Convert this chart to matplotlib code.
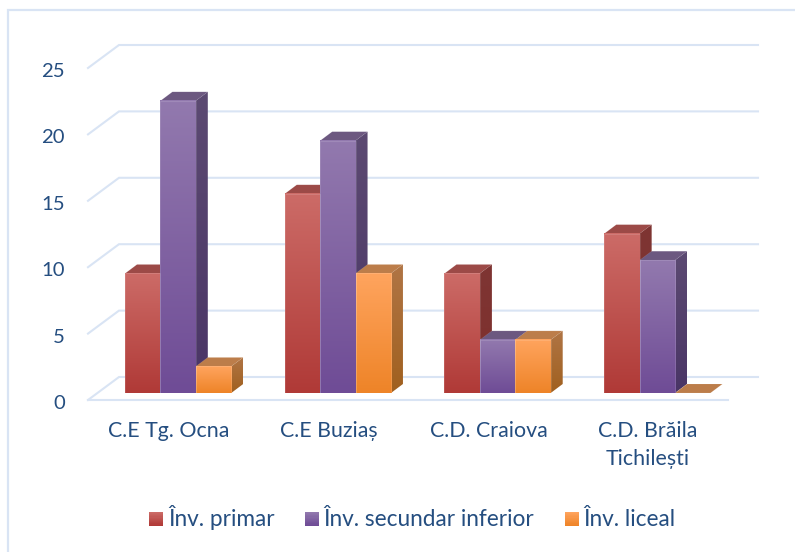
import numpy as np
import matplotlib
matplotlib.use("Agg")
import matplotlib.pyplot as plt
from matplotlib.colors import to_rgb, LinearSegmentedColormap
from matplotlib.lines import Line2D
from matplotlib.patches import Rectangle, Patch
from matplotlib.legend_handler import HandlerBase
from matplotlib.transforms import ScaledTranslation

categories = ["C.E Tg. Ocna", "C.E Buziaș", "C.D. Craiova", "C.D. Brăila\nTichilești"]
series_names = ["Înv. primar", "Înv. secundar inferior", "Înv. liceal"]
primar = [9, 15, 9, 12]
secundar = [22, 19, 4, 10]
liceal = [2, 9, 4, 0]
yticks = [0, 5, 10, 15, 20, 25]

W, H = 795, 552
TXT = "#254E80"
GRID = "#D9E4F4"
FONT = "Lato"
plt.rcParams["font.family"] = [FONT, "DejaVu Sans"]

series = [primar, secundar, liceal]
front_top = ["#CC6B67", "#9279AE", "#FFA45E"]
front_bot = ["#B03A37", "#6F4C96", "#EE8428"]
side_top = ["#7E3533", "#5C4A72", "#B07545"]
side_bot = ["#7E2F2D", "#4A3566", "#A0601F"]
top_col = ["#9C4A47", "#6C5880", "#BC7D4A"]

fig = plt.figure(figsize=(W / 100, H / 100), dpi=100, facecolor="white")
# frame: only the left and top edges are visible
fig.add_artist(Line2D([8 / W, 8 / W, 1], [0, 1 - 10 / H, 1 - 10 / H], transform=fig.transFigure,
                      color=GRID, lw=1.6, solid_joinstyle="miter"))

# axes: x spans the front floor edge, y the value scale on the front plane
ax = fig.add_axes([88 / W, 1 - 400 / H, (727 - 88) / W, (400 - 68) / H])
ax.patch.set_visible(False)
for s in ax.spines.values():
    s.set_visible(False)

px_x = 4 / (727 - 88)
px_y = 25 / (400 - 68)
wall_dx, wall_dy = 31 * px_x, 23 * px_y
bar_dx, bar_dy = 12 * px_x, 9 * px_y
base_dy = 7 * px_y
bar_w = 35.4 * px_x
group_off = 37 * px_x

# grid
for t in yticks:
    xs = [0, wall_dx, 4 + wall_dx]
    ys = [t, t + wall_dy, t + wall_dy]
    ax.plot(xs, ys, color=GRID, lw=1.5, clip_on=False, zorder=1, solid_joinstyle="miter")
ax.plot([0, 4 + px_x], [0, 0], color=GRID, lw=1.5, clip_on=False, zorder=1)


def v_gradient(c_top, c_bot):
    return LinearSegmentedColormap.from_list("g", [to_rgb(c_bot), to_rgb(c_top)])


EDGE = (1, 1, 1, 0.15)
z = 3
for i in range(len(categories)):
    for j, vals in enumerate(series):
        v = vals[i]
        x0 = i + group_off + j * bar_w
        x1 = x0 + bar_w
        y0 = base_dy
        y1 = v + base_dy
        # top face
        ax.fill([x0, x1, x1 + bar_dx, x0 + bar_dx], [y1, y1, y1 + bar_dy, y1 + bar_dy],
                color=top_col[j], lw=0.4, ec=EDGE, clip_on=False, zorder=z)
        if v > 0:
            # side face (gradient clipped to a parallelogram)
            side = ax.fill([x1, x1 + bar_dx, x1 + bar_dx, x1], [y0, y0 + bar_dy, y1 + bar_dy, y1],
                           color="none", lw=0, clip_on=False, zorder=z)[0]
            im = ax.imshow(np.linspace(1, 0, 64).reshape(-1, 1), cmap=v_gradient(side_top[j], side_bot[j]),
                           extent=(x1, x1 + bar_dx, y0, y1 + bar_dy), aspect="auto", zorder=z,
                           interpolation="bilinear", clip_on=True)
            im.set_clip_path(side)
            # front face
            ax.imshow(np.linspace(1, 0, 64).reshape(-1, 1), cmap=v_gradient(front_top[j], front_bot[j]),
                      extent=(x0, x1, y0, y1), aspect="auto", zorder=z + 0.5,
                      interpolation="bilinear", clip_on=False)
            ax.bar(x0, v, width=bar_w, bottom=y0, align="edge", fill=False, ec=EDGE, lw=0.6,
                   clip_on=False, zorder=z + 0.6)

ax.set_xlim(0, 4)
ax.set_ylim(0, 25)
ax.set_xticks(np.arange(4) + 0.5 + 1 * px_x, categories, fontsize=15.4, color=TXT, linespacing=1.5)
ax.set_yticks(yticks, [str(t) for t in yticks], fontsize=14.6, color=TXT)
ax.tick_params(axis="both", length=0)
ax.tick_params(axis="x", pad=15)
ax.tick_params(axis="y", pad=16.8)
off = ScaledTranslation(0, -2 / 100, fig.dpi_scale_trans)
for lab in ax.get_yticklabels():
    lab.set_transform(lab.get_transform() + off)


class GradHandler(HandlerBase):
    def create_artists(self, legend, orig, xd, yd, width, height, fontsize, trans):
        n = 12
        c0 = np.array(to_rgb(orig.c_top))
        c1 = np.array(to_rgb(orig.c_bot))
        s = 14 / 1.389
        out = []
        for k in range(n):
            col = c1 + (c0 - c1) * k / (n - 1)
            out.append(Rectangle((width - s, -yd + k * s / n + 0.5), s, s / n + 0.1, fc=col, ec="none", transform=trans))
        return out


handles = []
for j in range(3):
    p = Patch(label=series_names[j])
    p.c_top, p.c_bot = front_top[j], front_bot[j]
    handles.append(p)
fig.legend(handles=handles, loc="center", bbox_to_anchor=(412.5 / W, 1 - 518 / H), ncols=3, frameon=False,
           fontsize=16.3, labelcolor=TXT, handler_map={Patch: GradHandler()}, handlelength=0.61,
           handletextpad=0.2, columnspacing=1.35)

fig.savefig("out.png", dpi=100)
